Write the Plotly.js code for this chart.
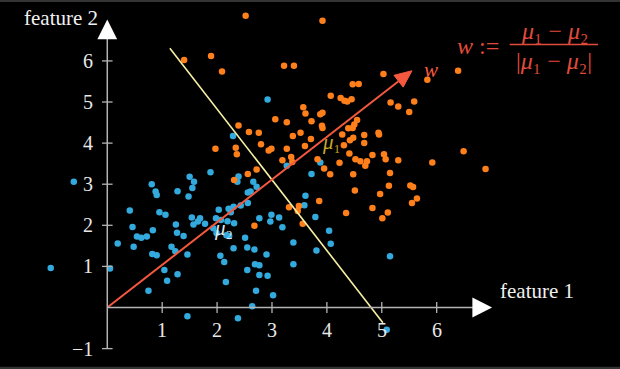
<!DOCTYPE html>
<html>
<head>
<meta charset="utf-8">
<script src="https://cdn.plot.ly/plotly-3.0.1.min.js"></script>
<style>html,body{margin:0;padding:0;background:#000;}#chart{width:620px;height:369px;}</style>
</head>
<body>
<div id="chart"></div>
<script>
// ---- data ----
const blueX = [-1.03,-0.61,0.05,0.19,0.41,0.46,0.48,0.54,0.62,0.72,0.75,0.81,0.82,0.83,0.88,0.90,0.90,0.95,1.04,1.06,1.09,1.17,1.24,1.25,1.27,1.28,1.28,1.39,1.46,1.46,1.48,1.50,1.55,1.58,1.54,1.57,1.65,1.69,1.78,1.88,1.93,1.99,1.98,2.03,2.07,2.06,2.13,2.16,2.17,2.22,2.19,2.21,2.25,2.30,2.31,2.30,2.29,2.37,2.39,2.38,2.43,2.51,2.55,2.55,2.56,2.61,2.56,2.64,2.66,2.68,2.69,2.72,2.71,2.77,2.77,2.77,2.90,2.92,2.92,2.97,2.99,3.02,3.13,3.19,3.27,3.39,3.39,3.59,3.61,3.72,3.79,3.81,3.88,4.04,4.07,5.15,5.09];
const blueY = [0.96,3.06,0.95,1.56,2.36,1.96,1.48,1.73,1.70,1.73,0.41,3.00,1.30,1.88,2.82,2.74,1.27,2.32,0.91,2.26,0.65,1.48,1.37,2.02,1.82,2.83,0.81,1.74,1.29,-0.21,2.70,3.18,2.91,3.06,2.19,2.02,2.09,2.17,2.04,3.29,1.93,1.81,2.17,2.38,2.13,1.26,1.11,0.62,1.76,1.74,2.10,2.40,2.32,2.45,2.05,1.44,4.17,3.06,3.19,-0.26,2.48,1.70,1.46,0.91,2.80,2.82,2.54,0.03,3.06,1.41,1.05,2.94,0.41,2.17,1.03,0.79,1.29,0.77,5.06,2.09,2.26,0.30,2.19,1.95,3.45,1.58,1.05,2.49,2.72,3.25,2.20,1.39,3.53,1.87,1.55,1.25,-0.54];
const orangeX = [2.52,1.40,1.89,2.09,3.22,3.40,3.92,5.03,4.47,4.58,5.83,6.39,4.07,4.25,4.32,4.37,4.45,5.16,5.30,5.59,5.50,3.57,3.61,3.06,3.27,2.39,2.58,2.76,3.38,3.52,1.97,2.34,2.36,2.80,2.94,2.99,3.27,3.60,3.35,3.37,3.19,2.72,2.56,2.31,3.88,3.92,3.72,4.55,3.91,3.92,4.39,4.47,4.50,4.94,4.95,4.68,4.28,3.71,4.48,4.42,4.68,4.31,4.41,4.83,5.04,5.07,4.52,4.61,4.73,4.70,5.30,4.23,3.95,3.83,4.06,4.48,5.15,5.92,6.49,6.89,4.51,5.13,4.97,5.52,5.57,5.55,5.64,3.86,4.83,4.35,5.11,5.01,3.31,3.49,3.47,3.56,2.68];
const orangeY = [7.10,6.02,6.12,5.74,5.88,5.88,6.98,5.68,5.43,5.44,5.54,5.76,5.15,5.10,5.03,5.01,5.07,4.99,4.89,5.01,4.76,4.87,4.72,4.58,4.51,4.43,4.27,4.25,4.17,4.25,3.86,3.89,3.73,3.97,3.82,3.86,3.86,3.93,3.66,3.54,3.58,3.36,3.25,3.10,4.70,4.74,4.53,4.56,4.42,4.37,4.36,4.37,4.45,4.25,4.21,4.20,4.21,4.10,4.13,4.07,4.00,3.95,3.75,3.71,3.73,3.61,3.61,3.56,3.56,3.45,3.58,3.52,3.38,3.61,3.24,3.24,3.27,3.53,3.80,3.37,2.85,2.96,2.76,2.97,2.93,2.54,2.65,2.59,2.42,2.30,2.31,2.17,2.44,2.47,2.35,2.04,1.99];
const wTip = [5.55, 5.76];              // end of the w arrow
const boundaryX = [1.14, 5.02];          // pale yellow separating line
const boundaryY = [6.31, -0.37];
const mu1 = [4.09, 4.02];
const mu2 = [2.11, 1.93];
const xTicks = [1, 2, 3, 4, 5, 6];
const xTickLabels = ['1', '2', '3', '4', '5', '6'];
const yTicks = [-1, 1, 2, 3, 4, 5, 6];
const yTickLabels = ['\u22121', '1', '2', '3', '4', '5', '6'];

// ---- layout geometry ----
const W = 620, H = 369;
const xRange = [-1.954, 9.339];
const yRange = [-1.496, 7.482];
const sx = W / (xRange[1] - xRange[0]);   // px per x unit
const sy = H / (yRange[1] - yRange[0]);   // px per y unit

const FONT = 'Liberation Serif, DejaVu Serif, serif';
const AXC = '#b4b4b4';
const RED = '#f4583f';
const RED2 = '#e14b3b';

// arrow head for w (computed in pixel space)
const dxp = wTip[0] * sx, dyp = wTip[1] * sy;
const L = Math.hypot(dxp, dyp);
const ux = dxp / L, uy = dyp / L;
const hl = 17, hw = 7.5;
const bx = wTip[0] * sx - ux * hl, by = wTip[1] * sy - uy * hl;
const headX = [wTip[0], (bx - uy * hw) / sx, (bx + uy * hw) / sx, wTip[0]];
const headY = [wTip[1], (by + ux * hw) / sy, (by - ux * hw) / sy, wTip[1]];

const traces = [
  {x: blueX, y: blueY, mode: 'markers', type: 'scatter',
   marker: {color: '#33aade', size: 6.5, line: {width: 0}}, hoverinfo: 'skip'},
  {x: orangeX, y: orangeY, mode: 'markers', type: 'scatter',
   marker: {color: '#ff7f1a', size: 6.5, line: {width: 0}}, hoverinfo: 'skip'},
  {x: boundaryX, y: boundaryY, mode: 'lines', type: 'scatter',
   line: {color: '#f7f0a6', width: 1.6}, hoverinfo: 'skip'},
  {x: [0, (bx) / sx], y: [0, (by) / sy], mode: 'lines', type: 'scatter',
   line: {color: RED, width: 2}, hoverinfo: 'skip'},
  {x: headX, y: headY, mode: 'lines', type: 'scatter', fill: 'toself',
   fillcolor: RED, line: {color: RED, width: 1}, hoverinfo: 'skip'}
];

const shapes = [];
// axes lines
shapes.push({type: 'line', xref: 'x', yref: 'y', x0: 0, y0: 0, x1: 6.66, y1: 0, line: {color: AXC, width: 1.5}});
shapes.push({type: 'line', xref: 'x', yref: 'y', x0: 0, y0: -1, x1: 0, y1: 6.54, line: {color: AXC, width: 1.5}});
// arrowheads
shapes.push({type: 'path', xref: 'x', yref: 'y', path: 'M 6.65 0.243 L 7.01 0 L 6.65 -0.243 Z', fillcolor: '#ffffff', line: {width: 0}});
shapes.push({type: 'path', xref: 'x', yref: 'y', path: 'M -0.18 6.53 L 0 7.01 L 0.18 6.53 Z', fillcolor: '#ffffff', line: {width: 0}});
// ticks
xTicks.forEach(t => shapes.push({type: 'line', xref: 'x', yref: 'y', x0: t, x1: t, y0: -5.5 / sy, y1: 5.5 / sy, line: {color: AXC, width: 1.3}}));
yTicks.forEach(t => shapes.push({type: 'line', xref: 'x', yref: 'y', y0: t, y1: t, x0: -5.3 / sx, x1: 5.3 / sx, line: {color: AXC, width: 1.3}}));
// fraction bar
shapes.push({type: 'line', xref: 'x', yref: 'y', x0: 7.33, x1: 8.94, y0: 6.40, y1: 6.40, line: {color: RED2, width: 1.4}});
// dark grey strips top and bottom
shapes.push({type: 'rect', xref: 'paper', yref: 'paper', x0: 0, x1: 1, y0: 1 - 2 / H, y1: 1, fillcolor: '#333333', line: {width: 0}});
shapes.push({type: 'rect', xref: 'paper', yref: 'paper', x0: 0, x1: 1, y0: 0, y1: 2.3 / H, fillcolor: '#333333', line: {width: 0}});

const ann = [];
const tickFont = {family: FONT, size: 20, color: '#e8e8e8'};
xTicks.forEach((t, i) => ann.push({x: t, y: -22 / sy, xref: 'x', yref: 'y', text: xTickLabels[i], showarrow: false, xanchor: 'center', yanchor: 'middle', font: tickFont}));
yTicks.forEach((t, i) => ann.push({x: -11.8 / sx, y: t, xref: 'x', yref: 'y', text: yTickLabels[i], showarrow: false, xanchor: 'right', yanchor: 'middle', font: tickFont}));
ann.push({x: -0.843, y: 7.044, xref: 'x', yref: 'y', text: 'feature 2', showarrow: false, font: {family: FONT, size: 21, color: '#f0f0f0'}});
ann.push({x: 7.83, y: 0.40, xref: 'x', yref: 'y', text: 'feature 1', showarrow: false, font: {family: FONT, size: 21, color: '#f0f0f0'}});
ann.push({x: mu1[0], y: mu1[1], xref: 'x', yref: 'y', text: '<i>\u03bc</i>\u2081', showarrow: false, font: {family: FONT, size: 21, color: '#c8a82a'}});
ann.push({x: mu2[0], y: mu2[1], xref: 'x', yref: 'y', text: '<i>\u03bc</i>\u2082', showarrow: false, font: {family: FONT, size: 21, color: '#dfe8ec'}});
ann.push({x: 5.90, y: 5.78, xref: 'x', yref: 'y', text: '<i>w</i>', showarrow: false, font: {family: FONT, size: 21, color: RED}});
ann.push({x: 6.75, y: 6.37, xref: 'x', yref: 'y', text: '<i>w</i> :=', showarrow: false, font: {family: FONT, size: 24, color: RED2}});
ann.push({x: 8.14, y: 6.73, xref: 'x', yref: 'y', text: '<i>\u03bc</i>\u2081 \u2212 <i>\u03bc</i>\u2082', showarrow: false, font: {family: FONT, size: 24, color: RED2}});
ann.push({x: 8.14, y: 5.99, xref: 'x', yref: 'y', text: '|<i>\u03bc</i>\u2081 \u2212 <i>\u03bc</i>\u2082|', showarrow: false, font: {family: FONT, size: 24, color: RED2}});

const layout = {
  width: W, height: H,
  margin: {l: 0, r: 0, t: 0, b: 0, pad: 0},
  paper_bgcolor: '#000000', plot_bgcolor: '#000000',
  showlegend: false,
  xaxis: {range: xRange, visible: false, fixedrange: true},
  yaxis: {range: yRange, visible: false, fixedrange: true},
  shapes: shapes,
  annotations: ann
};

Plotly.newPlot('chart', traces, layout, {displayModeBar: false, staticPlot: true});
</script>
</body>
</html>
